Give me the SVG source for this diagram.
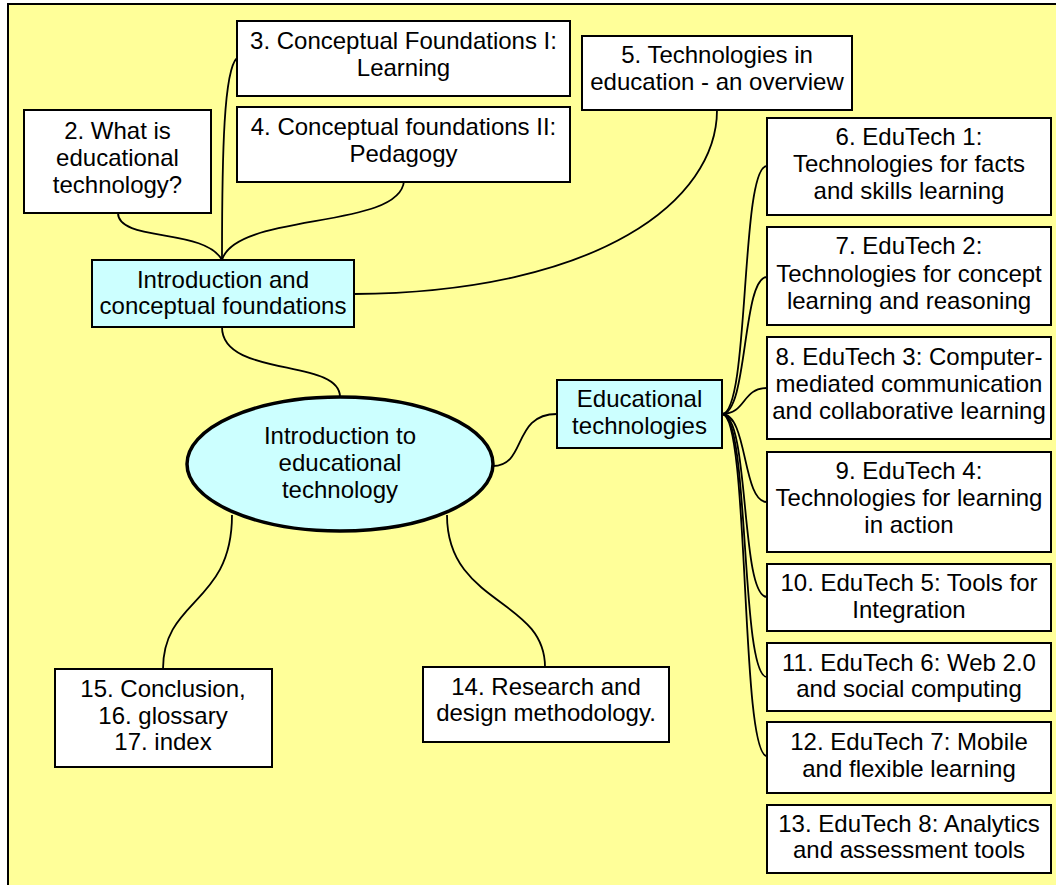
<svg xmlns="http://www.w3.org/2000/svg" width="1056" height="885" viewBox="0 0 1056 885">
<style>
.bg{fill:#FFFF99;stroke:#000;stroke-width:2}
.box{fill:#fff;stroke:#000;stroke-width:2}
.hub{fill:#CCFFFF;stroke:#000;stroke-width:2}
.ell{fill:#CCFFFF;stroke:#000;stroke-width:3.5}
.c{fill:none;stroke:#000;stroke-width:1.8}
text{font-family:"Liberation Sans",Arial,sans-serif;font-size:24px;fill:#000;text-anchor:middle}
</style>
<rect x="0" y="0" width="1056" height="885" fill="#fff"/>
<rect class="bg" x="8" y="4" width="1060" height="900"/>
<g id="connectors">
<path class="c" d="M118,213 C118,242 205,228 222,260"/>
<path class="c" d="M222,260 C222,150 224,70 237,58"/>
<path class="c" d="M222,260 C236,212 400,230 404,181"/>
<path class="c" d="M354,294 C600,292 717,200 717,110"/>
<path class="c" d="M222,327 C222,378 340,358 340,397"/>
<path class="c" d="M493,466 C527,466 512,414 557,414"/>
<path class="c" d="M722,414 C750,414 740,166 767,166"/>
<path class="c" d="M722,414 C748,414 742,277 767,277"/>
<path class="c" d="M722,414 C746,414 742,388 767,388"/>
<path class="c" d="M722,414 C748,414 742,502 767,502"/>
<path class="c" d="M722,414 C750,414 740,597 767,597"/>
<path class="c" d="M722,414 C750,414 740,677 767,677"/>
<path class="c" d="M722,414 C750,414 740,756 767,756"/>
<path class="c" d="M232,515 C232,605 163,598 163,669"/>
<path class="c" d="M447,515 C447,605 545,598 545,667"/>
</g>
<g id="n2"><rect class="box" x="24" y="110" width="187" height="103"/>
<text x="117.5" y="139">2. What is</text><text x="117.5" y="166">educational</text><text x="117.5" y="193">technology?</text></g>
<g id="n3"><rect class="box" x="237" y="21" width="333" height="75"/>
<text x="403.5" y="49">3. Conceptual Foundations I:</text><text x="403.5" y="76">Learning</text></g>
<g id="n4"><rect class="box" x="237" y="107" width="333" height="75"/>
<text x="403.5" y="135">4. Conceptual foundations II:</text><text x="403.5" y="162">Pedagogy</text></g>
<g id="n5"><rect class="box" x="582" y="36" width="270" height="74"/>
<text x="717" y="63">5. Technologies in</text><text x="717" y="90">education - an overview</text></g>
<g id="intro"><rect class="hub" x="92" y="260" width="262" height="67"/>
<text x="223" y="288">Introduction and</text><text x="223" y="314">conceptual foundations</text></g>
<g id="center"><ellipse class="ell" cx="340" cy="464" rx="153" ry="67"/>
<text x="340" y="444">Introduction to</text><text x="340" y="471">educational</text><text x="340" y="498">technology</text></g>
<g id="edtech"><rect class="hub" x="557" y="380" width="165" height="68"/>
<text x="639.5" y="407">Educational</text><text x="639.5" y="434">technologies</text></g>
<g id="n6"><rect class="box" x="767" y="118" width="284" height="97"/>
<text x="909" y="145">6. EduTech 1:</text><text x="909" y="172">Technologies for facts</text><text x="909" y="199">and skills learning</text></g>
<g id="n7"><rect class="box" x="767" y="227" width="284" height="98"/>
<text x="909" y="254">7. EduTech 2:</text><text x="909" y="282">Technologies for concept</text><text x="909" y="309">learning and reasoning</text></g>
<g id="n8"><rect class="box" x="767" y="337" width="284" height="102"/>
<text x="909" y="365">8. EduTech 3: Computer-</text><text x="909" y="392">mediated communication</text><text x="909" y="419">and collaborative learning</text></g>
<g id="n9"><rect class="box" x="767" y="452" width="284" height="100"/>
<text x="909" y="479">9. EduTech 4:</text><text x="909" y="506">Technologies for learning</text><text x="909" y="533">in action</text></g>
<g id="n10"><rect class="box" x="767" y="564" width="284" height="67"/>
<text x="909" y="591">10. EduTech 5: Tools for</text><text x="909" y="618">Integration</text></g>
<g id="n11"><rect class="box" x="767" y="643" width="284" height="68"/>
<text x="909" y="671">11. EduTech 6: Web 2.0</text><text x="909" y="697">and social computing</text></g>
<g id="n12"><rect class="box" x="767" y="722" width="284" height="71"/>
<text x="909" y="750">12. EduTech 7: Mobile</text><text x="909" y="777">and flexible learning</text></g>
<g id="n13"><rect class="box" x="767" y="805" width="284" height="68"/>
<text x="909" y="832">13. EduTech 8: Analytics</text><text x="909" y="858">and assessment tools</text></g>
<g id="n14"><rect class="box" x="423" y="667" width="246" height="75"/>
<text x="546" y="695">14. Research and</text><text x="546" y="721">design methodology.</text></g>
<g id="n15"><rect class="box" x="55" y="669" width="217" height="98"/>
<text x="163" y="697">15. Conclusion,</text><text x="163" y="724">16. glossary</text><text x="163" y="750">17. index</text></g>
</svg>
